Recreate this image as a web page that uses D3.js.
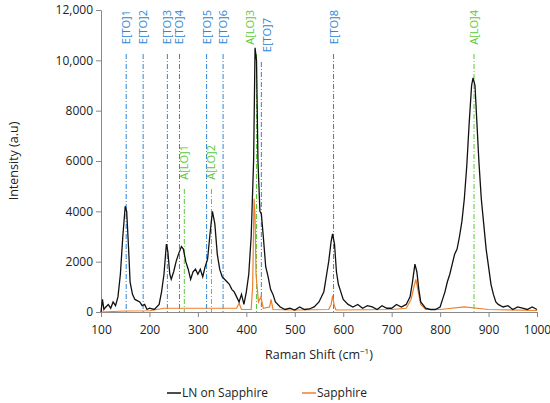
<!DOCTYPE html>
<html>
<head>
<script src="https://cdn.jsdelivr.net/npm/d3@7"></script>
<style>body{margin:0;background:#fff;font-family:"Open Sans",sans-serif;}</style>
</head>
<body>
<div id="chart"></div>
<script>
var lnX = [100,103,106,110,115,120,125,130,135,140,145,150,153,157,160,165,170,180,185,190,195,200,210,220,225,230,235,238,242,245,250,255,260,266,270,275,280,285,290,295,300,305,310,315,320,325,330,335,340,345,350,355,360,365,370,375,380,385,390,395,400,405,410,415,418,421,424,428,431,435,440,445,450,455,460,470,480,490,500,510,520,530,540,550,560,565,570,575,578,582,586,590,595,600,610,620,630,640,650,660,670,680,690,700,710,720,730,738,743,748,752,756,760,770,780,790,800,805,810,815,820,825,830,835,840,845,850,855,860,865,868,872,876,880,885,890,895,900,905,910,915,920,930,940,950,960,970,980,990,1000];
var lnY = [0,500,100,200,300,150,400,250,600,1500,3000,4200,4000,2500,1200,700,500,400,250,300,100,150,100,300,800,1500,2700,2400,1500,1300,1600,2000,2300,2600,2500,2000,1700,1300,1600,1700,1500,1700,1400,1800,2100,3100,4000,3500,2300,1700,1400,1300,1200,1100,900,800,600,400,700,300,800,1500,3000,6000,10500,10000,6000,4000,3900,3000,1800,1400,900,700,400,200,100,150,80,200,100,120,200,400,800,1400,2000,2800,3100,2700,1600,1100,800,500,300,200,300,150,250,200,100,250,150,150,300,200,300,600,1200,1900,1600,900,400,150,100,100,200,500,800,1200,1500,1900,2300,2500,3000,3600,4500,5800,7500,9000,9300,9000,7500,6000,4500,3500,2500,1800,1100,700,400,300,200,250,100,200,150,100,200,100];
var spX = [100,150,200,230,300,380,385,390,410,413,416,418,420,425,430,435,448,451,455,500,570,575,578,581,585,700,730,740,746,750,754,760,770,800,850,900,1000];
var spY = [0,40,50,150,150,150,350,100,100,1000,4500,3800,1500,400,600,150,200,500,100,80,100,300,650,300,80,100,150,500,1000,1300,900,300,100,100,200,100,60];
var modeNames = ["E[TO]1","E[TO]2","E[TO]3","E[TO]4","E[TO]5","E[TO]6","E[TO]7","E[TO]8","A[LO]1","A[LO]2","A[LO]3","A[LO]4"];
var modePos = [152,187,237,262,318,352,431,580,272,328,421,870];
var modeLabelTop = [10,10,10,10,10,10,18,10,145,145,10,10];
var modeLabelShift = [4,4,4,4,4,4,10,4,4,4,-3,4];
var xTicks = [100,200,300,400,500,600,700,800,900,1000];
var yTicks = [0,2000,4000,6000,8000,10000,12000];

var W = 550, H = 403;
var m = {left:101, right:13, top:10, bottom:91};
var svg = d3.select('#chart').append('svg').attr('width', W).attr('height', H);
var x = d3.scaleLinear().domain([100,1000]).range([m.left, W - m.right]);
var y = d3.scaleLinear().domain([0,12000]).range([H - m.bottom, m.top]);

var line = d3.line().x(function(d){return x(d[0]);}).y(function(d){return y(d[1]);});

// vertical mode lines
modeNames.forEach(function(n, i) {
  var col = n[0] === 'E' ? '#2e86d6' : '#5cc93c';
  svg.append('line')
    .attr('x1', x(modePos[i])).attr('x2', x(modePos[i]))
    .attr('y1', modeLabelTop[i] + 44).attr('y2', y(0))
    .attr('stroke', col).attr('stroke-width', 1)
    .attr('stroke-dasharray', '5,2,1,2');
  svg.append('text')
    .attr('transform', 'translate(' + (x(modePos[i]) + modeLabelShift[i]) + ',' + modeLabelTop[i] + ') rotate(-90)')
    .attr('text-anchor', 'end')
    .attr('font-size', 11).attr('fill', col)
    .text(n);
});

var xAxis = svg.append('g').attr('transform', 'translate(0,' + y(0) + ')')
  .call(d3.axisBottom(x).tickValues(xTicks).tickSize(5).tickFormat(d3.format('d')));
var yAxis = svg.append('g').attr('transform', 'translate(' + m.left + ',0)')
  .call(d3.axisLeft(y).tickValues(yTicks).tickSize(5).tickFormat(function(d){ return d >= 10000 ? d3.format(',')(d) : d; }));
[xAxis, yAxis].forEach(function(a){
  a.selectAll('path,line').attr('stroke', '#888');
  a.selectAll('text').attr('font-size', 12).attr('fill', '#222').attr('font-family', '"Open Sans",sans-serif');
});
xAxis.selectAll('text').attr('dy', '1.2em');

svg.append('path').datum(d3.zip(spX, spY)).attr('d', line)
  .attr('fill', 'none').attr('stroke', '#f07f2a').attr('stroke-width', 1.2);
svg.append('path').datum(d3.zip(lnX, lnY)).attr('d', line)
  .attr('fill', 'none').attr('stroke', '#111').attr('stroke-width', 1.3);

svg.append('text').attr('x', (m.left + W - m.right) / 2).attr('y', 359)
  .attr('text-anchor', 'middle').attr('font-size', 12.5).attr('fill', '#222')
  .html('Raman Shift (cm<tspan dy="-5" font-size="8">−1</tspan><tspan dy="5">)</tspan>');
svg.append('text').attr('transform', 'translate(18,' + (m.top + (H - m.bottom - m.top) / 2) + ') rotate(-90)')
  .attr('text-anchor', 'middle').attr('font-size', 12.5).attr('fill', '#222').text('Intensity (a.u)');

var leg = [['LN on Sapphire', '#111', 167], ['Sapphire', '#f07f2a', 302]];
leg.forEach(function(l){
  svg.append('line').attr('x1', l[2]).attr('x2', l[2] + 14).attr('y1', 393).attr('y2', 393)
    .attr('stroke', l[1]).attr('stroke-width', 1.5);
  svg.append('text').attr('x', l[2] + 15).attr('y', 397).attr('font-size', 12).attr('fill', '#222').text(l[0]);
});
</script>
</body>
</html>
